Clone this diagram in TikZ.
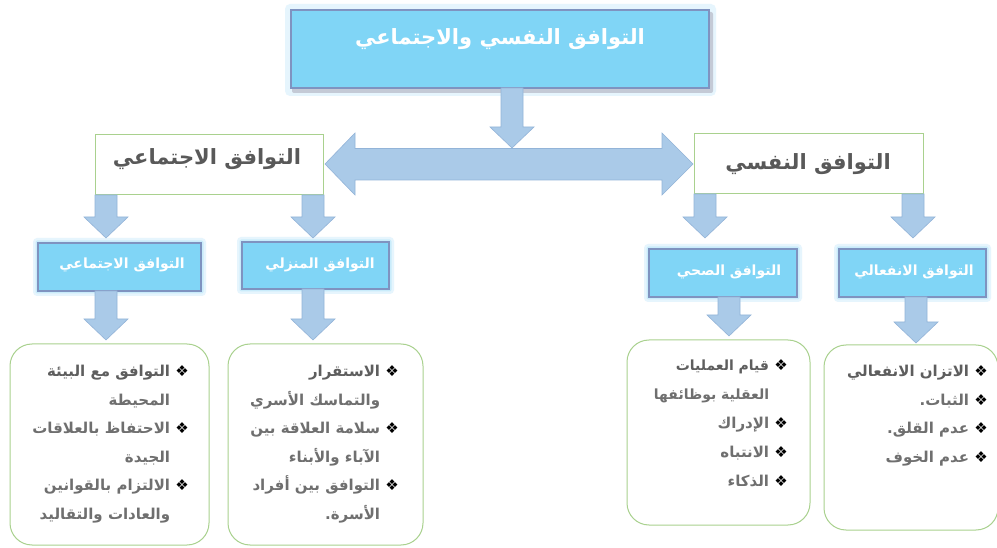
\documentclass[tikz,border=0pt]{standalone}
\usepackage{fontspec}
\usetikzlibrary{calc}
\newfontfamily\arabicfont[Script=Arabic]{DejaVu Sans}
\TeXXeTstate=1
\newcommand\ar[1]{\beginR #1\endR}
\newcommand\bul{{\color{bulgray}❖}\ }
\newcommand\nob{\phantom{❖\ }}
\definecolor{boxblue}{HTML}{80D5F6}
\definecolor{boxedge}{HTML}{7F93C0}
\definecolor{arrowfill}{HTML}{AACAE8}
\definecolor{arrowedge}{HTML}{93B4D8}
\definecolor{greenedge}{HTML}{A9D18E}
\definecolor{textgray}{HTML}{595959}
\definecolor{listgray}{HTML}{5E5E5E}
\definecolor{bulgray}{HTML}{6F6F6F}
\definecolor{glowouter}{HTML}{E6F5FD}
\definecolor{glowinner}{HTML}{C9ECFB}
\definecolor{shadowgray}{HTML}{C4CAD6}
\pgfdeclarelayer{bg}
\pgfsetlayers{bg,main}
\newcommand\glow[1]{%
  \begin{pgfonlayer}{bg}
  \fill[glowouter,rounded corners=4pt] ($(#1.north west)+(-5,-5)$) rectangle ($(#1.south east)+(5,5)$);
  \fill[glowinner,rounded corners=2pt] ($(#1.north west)+(-2.5,-2.5)$) rectangle ($(#1.south east)+(2.5,2.5)$);
  \end{pgfonlayer}}
\newcommand\dnarrow[2]{%
  \path[arrowshape] let \p1=#1, \p2=#2 in
    (\x2-11pt,\y1) -- (\x2+11pt,\y1) -- (\x2+11pt,\y2+21pt) -- (\x2+22pt,\y2+21pt)
    -- (\x2,\y2) -- (\x2-22pt,\y2+21pt) -- (\x2-11pt,\y2+21pt) -- cycle;}
\newcommand\smallline{\fontsize{14}{29.2}\selectfont}
\begin{document}
\begin{tikzpicture}[x=1pt,y=-1pt,
  bluebox/.style={draw=boxedge, line width=1.2pt, fill=boxblue, inner sep=0pt, outer sep=0pt},
  greenbox/.style={draw=greenedge, line width=1pt, fill=white, inner sep=0pt, outer sep=0pt},
  roundbox/.style={greenbox, rounded corners=22pt},
  titletext/.style={font=\arabicfont\bfseries\fontsize{21}{25}\selectfont, text=white, inner sep=0pt},
  midtext/.style={font=\arabicfont\bfseries\fontsize{21}{25}\selectfont, text=textgray, inner sep=0pt},
  subtext/.style={font=\arabicfont\bfseries\fontsize{14}{17}\selectfont, text=white, inner sep=0pt},
  listtext/.style={font=\arabicfont\bfseries\fontsize{15}{28.5}\selectfont, text=listgray, align=right, anchor=north east, inner sep=0pt},
  arrowshape/.style={fill=arrowfill, draw=arrowedge, line width=0.6pt, line join=miter}]
\useasboundingbox (0,0) rectangle (997,548);
\begin{pgfonlayer}{bg}
\fill[white] (0,0) rectangle (997,548);
\end{pgfonlayer}

% top box
\node[bluebox, minimum width=418pt, minimum height=78pt] (top) at (500,49) {};
\begin{pgfonlayer}{bg}
\fill[glowouter,rounded corners=5pt] ($(top.north west)+(-6,-6)$) rectangle ($(top.south east)+(7,8)$);
\fill[shadowgray,rounded corners=2pt] ($(top.north west)+(1,2)$) rectangle ($(top.south east)+(4,5)$);
\end{pgfonlayer}
\node[titletext] (toptxt) at (500,39) {\ar{التوافق النفسي والاجتماعي}};

% middle boxes
\node[greenbox, minimum width=228pt, minimum height=60pt] (ml) at (209,165) {};
\node[midtext] (mltxt) at (207,159) {\ar{التوافق الاجتماعي}};
\node[greenbox, minimum width=229pt, minimum height=60pt] (mr) at (808.5,164) {};
\node[midtext] (mrtxt) at (808,164) {\ar{التوافق النفسي}};

% level 3 boxes
\node[bluebox, minimum width=163pt, minimum height=48pt] (sa) at (119.5,267) {};
\node[bluebox, minimum width=147pt, minimum height=47pt] (sb) at (315.5,265.5) {};
\node[bluebox, minimum width=148pt, minimum height=48pt] (sc) at (723,273) {};
\node[bluebox, minimum width=147pt, minimum height=48pt] (sd) at (912.5,273) {};
\glow{sa}\glow{sb}\glow{sc}\glow{sd}
\node[subtext] (satxt) at (122,265) {\ar{التوافق الاجتماعي}};
\node[subtext] (sbtxt) at (320,265) {\ar{التوافق المنزلي}};
\node[subtext] (sctxt) at (729,272) {\ar{التوافق الصحي}};
\node[subtext] (sdtxt) at (914,272) {\ar{التوافق الانفعالي}};

% bottom boxes
\node[roundbox, minimum width=199pt, minimum height=201pt] (ba) at (109.5,444.5) {};
\node[roundbox, minimum width=195pt, minimum height=201pt] (bb) at (325.5,444.5) {};
\node[roundbox, minimum width=183pt, minimum height=185pt] (bc) at (718.5,432.5) {};
\node[roundbox, minimum width=174pt, minimum height=185pt] (bd) at (911,437.5) {};

\node[listtext] (la) at (189,365) {\ar{\bul التوافق مع البيئة}\\ \ar{\nob المحيطة}\\ \ar{\bul الاحتفاظ بالعلاقات}\\ \ar{\nob الجيدة}\\ \ar{\bul الالتزام بالقوانين}\\ \ar{\nob والعادات والتقاليد}};
\node[listtext] (lb) at (399,365) {\ar{\bul الاستقرار}\\ \ar{\nob والتماسك الأسري}\\ \ar{\bul سلامة العلاقة بين}\\ \ar{\nob الآباء والأبناء}\\ \ar{\bul التوافق بين أفراد}\\ \ar{\nob الأسرة.}};
\node[listtext, font=\arabicfont\bfseries\fontsize{15}{29.2}\selectfont] (lc) at (788,359) {\ar{\bul {\smallline قيام العمليات}}\\ \ar{\nob {\smallline العقلية بوظائفها}}\\ \ar{\bul الإدراك}\\ \ar{\bul الانتباه}\\ \ar{\bul الذكاء}};
\node[listtext] (ld) at (988,365) {\ar{\bul الاتزان الانفعالي}\\ \ar{\bul الثبات.}\\ \ar{\bul عدم القلق.}\\ \ar{\bul عدم الخوف}};

% arrow tips
\coordinate (t1) at (512,148);
\coordinate (t2) at (106,238);
\coordinate (t3) at (313,238);
\coordinate (t4) at (705,238);
\coordinate (t5) at (913,238);
\coordinate (t6) at (106,340);
\coordinate (t7) at (313,340);
\coordinate (t8) at (729,336);
\coordinate (t9) at (916,343);

\dnarrow{(top.south)}{(t1)}
\dnarrow{(ml.south)}{(t2)}
\dnarrow{(ml.south)}{(t3)}
\dnarrow{(mr.south)}{(t4)}
\dnarrow{(mr.south)}{(t5)}
\dnarrow{(sa.south)}{(t6)}
\dnarrow{(sb.south)}{(t7)}
\dnarrow{(sc.south)}{(t8)}
\dnarrow{(sd.south)}{(t9)}

% double arrow between the two middle boxes
\coordinate (dl) at ($(ml.east)+(2,-1)$);
\coordinate (dr) at ($(mr.west)+(-1,0)$);
\path[arrowshape] (dl) -- ($(dl)+(30,-31)$) -- ($(dl)+(30,-15.5)$) -- ($(dr)+(-31,-15.5)$)
  -- ($(dr)+(-31,-31)$) -- (dr) -- ($(dr)+(-31,31)$) -- ($(dr)+(-31,16)$)
  -- ($(dl)+(30,16)$) -- ($(dl)+(30,31)$) -- cycle;
\end{tikzpicture}
\end{document}
